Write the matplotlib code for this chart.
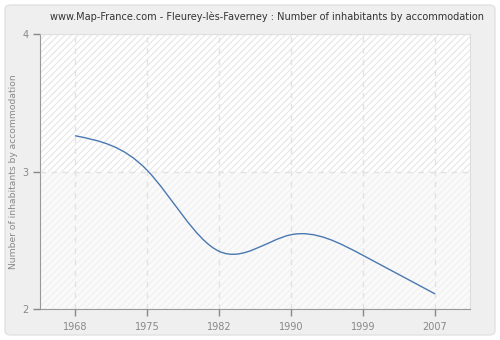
import matplotlib
matplotlib.use("Agg")
import matplotlib.pyplot as plt
import numpy as np
from matplotlib.patches import FancyBboxPatch, Rectangle, PathPatch
from matplotlib.path import Path

years = ["1968", "1975", "1982", "1990", "1999", "2007"]
inhabitants = [3.26, 3.01, 2.42, 2.54, 2.39, 2.11]
y_ticks = [2, 3, 4]

title = "www.Map-France.com - Fleurey-lès-Faverney : Number of inhabitants by accommodation"
y_label = "Number of inhabitants by accommodation"


def natural_spline_path(xs, ys):
    """Natural cubic spline through the points, as a bezier Path."""
    xs = np.asarray(xs, dtype=float)
    ys = np.asarray(ys, dtype=float)
    n = len(xs)
    h = np.diff(xs)
    a = np.zeros((n, n))
    b = np.zeros(n)
    a[0, 0] = a[-1, -1] = 1.0
    for i in range(1, n - 1):
        a[i, i - 1] = h[i - 1]
        a[i, i] = 2 * (h[i - 1] + h[i])
        a[i, i + 1] = h[i]
        b[i] = 6 * ((ys[i + 1] - ys[i]) / h[i] - (ys[i] - ys[i - 1]) / h[i - 1])
    m = np.linalg.solve(a, b)
    verts = [(xs[0], ys[0])]
    codes = [Path.MOVETO]
    for i in range(n - 1):
        slope = (ys[i + 1] - ys[i]) / h[i]
        d0 = slope - h[i] * (2 * m[i] + m[i + 1]) / 6
        d1 = slope + h[i] * (m[i] + 2 * m[i + 1]) / 6
        verts += [
            (xs[i] + h[i] / 3, ys[i] + d0 * h[i] / 3),
            (xs[i + 1] - h[i] / 3, ys[i + 1] - d1 * h[i] / 3),
            (xs[i + 1], ys[i + 1]),
        ]
        codes += [Path.CURVE4] * 3
    return Path(verts, codes)


plt.rcParams["hatch.linewidth"] = 0.8

fig = plt.figure(figsize=(5, 3.4), dpi=100, facecolor="white")
frame = FancyBboxPatch(
    (5 / 500, 5 / 340), 490 / 500, 330 / 340,
    boxstyle="round,pad=0,rounding_size=0.012",
    transform=fig.transFigure, facecolor="#efefef",
    edgecolor="#e2e2e2", linewidth=1.0, zorder=-5,
)
fig.patches.append(frame)

ax = fig.add_axes([40 / 500, 31 / 340, 430 / 500, 275 / 340], zorder=2)
ax.set_facecolor("white")
x = np.arange(len(years))
ax.set_xlim(-0.486, 5.486)
ax.set_ylim(2, 4)

# hatched bands behind the data
ax.add_patch(Rectangle((-0.486, 3), 6, 1, facecolor="white", edgecolor="#e6e6e6",
                       hatch="/////", linewidth=0, zorder=0))
ax.add_patch(Rectangle((-0.486, 2), 6, 1, facecolor="#fafafa", edgecolor="#f0f0f0",
                       hatch="/////", linewidth=0, zorder=0))

ax.grid(True, color="#e2e2e2", linestyle=(0, (4, 4)), linewidth=1.0, zorder=1)
ax.set_axisbelow(False)

ax.add_patch(PathPatch(natural_spline_path(x, inhabitants), facecolor="none",
                       edgecolor="#4a78b0", linewidth=1.0, zorder=3))

ax.set_xticks(x)
ax.set_xticklabels(years)
ax.set_yticks(y_ticks)
ax.tick_params(colors="#888888", labelsize=7, length=5, width=1, direction="out")
ax.tick_params(axis="x", pad=4)
for side in ("left", "bottom"):
    ax.spines[side].set_color("#999999")
for side in ("top", "right"):
    ax.spines[side].set_color("#dddddd")

fig.text(14 / 500, 1 - 172 / 340, y_label, rotation=90, ha="center", va="center",
         fontsize=6.6, color="#888888")
fig.text(266.5 / 500, 1 - 17 / 340, title, ha="center", va="center",
         fontsize=7, color="#333333")

fig.savefig("out.png", dpi=100, facecolor="white")
